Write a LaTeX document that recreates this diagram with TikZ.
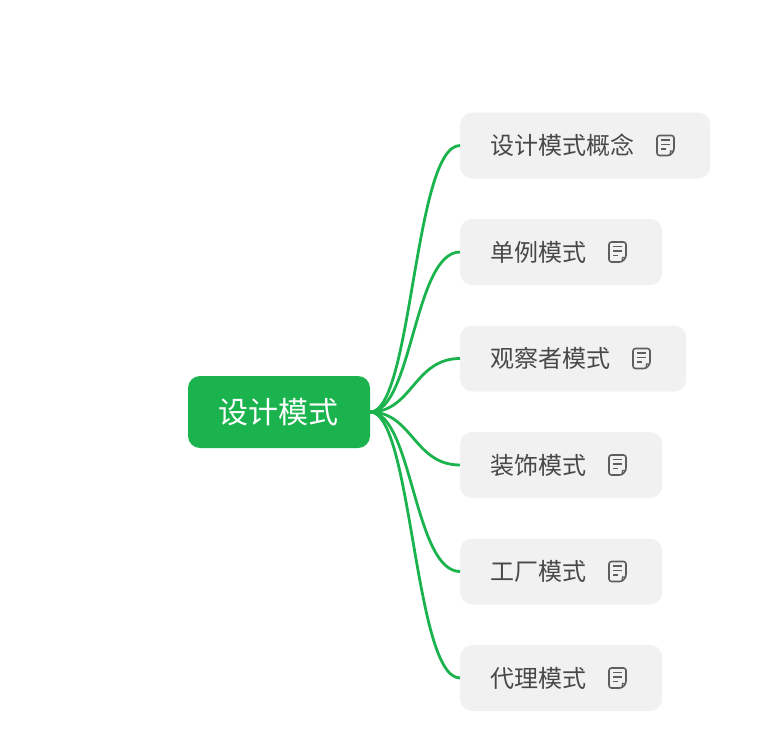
\documentclass[tikz,border=0pt]{standalone}
\usepackage{fontspec}
\setmainfont{Noto Sans CJK SC}
\definecolor{mygreen}{HTML}{1BB34D}
\definecolor{leaffill}{HTML}{F1F1F1}
\definecolor{leaftext}{HTML}{484848}
\definecolor{iconcol}{HTML}{5E5E5E}
\tikzset{
  x=1pt,y=-1pt,
  rootbox/.style={fill=mygreen,rounded corners=12pt,text=white,minimum width=182pt,minimum height=72pt,inner sep=0pt,font=\fontsize{30}{30}\selectfont},
  leafbox/.style={fill=leaffill,rounded corners=12pt,text=leaftext,anchor=west,minimum height=66pt,inner ysep=0pt,inner xsep=30pt,align=left,font=\fontsize{24}{24}\selectfont},
  link/.style={draw=mygreen,line width=2.8pt},
  noteicon/.pic={
    \draw[iconcol,line width=1.6pt,rounded corners=2.5pt,line join=round] (4.5,10) -- (-8.5,10) -- (-8.5,-10) -- (8.5,-10) -- (8.5,5.5) -- cycle;
    \draw[iconcol,line width=1.2pt] (8.5,5.5) -- (5,5.5) -- (4.5,10);
    \draw[iconcol,line width=1.4pt] (-4.5,-5.5) -- (4.5,-5.5) (-4.5,-1) -- (4.5,-1) (-4.5,3.5) -- (0.5,3.5);
  }
}
\begin{document}
\begin{tikzpicture}
\useasboundingbox (0,0) rectangle (773,736);
\node[rootbox] (root) at (279,412) {\hspace*{-1pt}设计模式};
\node[leafbox,text width=190pt] (a) at (460,145.5) {设计模式概念};
\node[leafbox,text width=142pt] (b) at (460,252) {单例模式};
\node[leafbox,text width=166pt] (c) at (460,358.5) {观察者模式};
\node[leafbox,text width=142pt] (d) at (460,465) {装饰模式};
\node[leafbox,text width=142pt] (e) at (460,571.5) {工厂模式};
\node[leafbox,text width=142pt] (f) at (460,678) {代理模式};
\foreach \t in {a,b,c,d,e,f}
  \draw[link] (root.east) .. controls +(42,0) and +(-46,0) .. (\t.west);
\pic at (665.5,145.5) {noteicon};
\pic at (617.5,252) {noteicon};
\pic at (641.5,358.5) {noteicon};
\pic at (617.5,465) {noteicon};
\pic at (617.5,571.5) {noteicon};
\pic at (617.5,678) {noteicon};
\end{tikzpicture}
\end{document}
